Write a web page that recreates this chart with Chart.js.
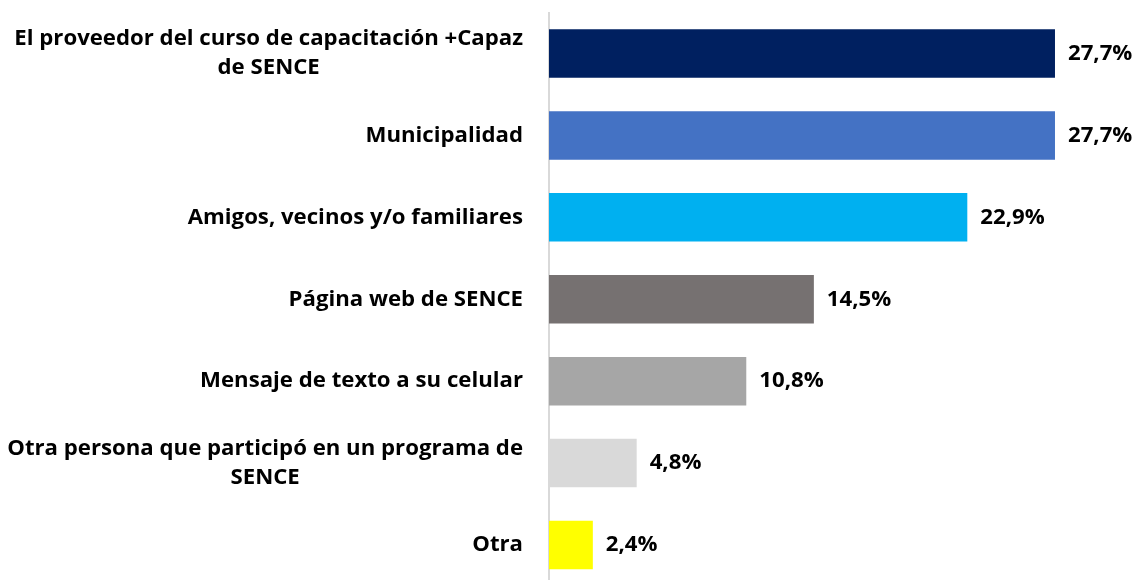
<!DOCTYPE html>
<html>
<head>
<meta charset="utf-8">
<script src="https://cdn.jsdelivr.net/npm/chart.js@4/dist/chart.umd.min.js"></script>
<style>
  html, body { margin: 0; padding: 0; background: #fff; overflow: hidden; }
  #chart { display: block; }
</style>
</head>
<body>
<canvas id="chart" width="1139" height="600"></canvas>
<script>
// ── Data ─────────────────────────────────────────
const categories = [
  ['El proveedor del curso de capacitación +Capaz', 'de SENCE'],
  ['Municipalidad'],
  ['Amigos, vecinos y/o familiares'],
  ['Página web de SENCE'],
  ['Mensaje de texto a su celular'],
  ['Otra persona que participó en un programa de', 'SENCE'],
  ['Otra'],
];
const values = [27.7, 27.7, 22.9, 14.5, 10.8, 4.8, 2.4];
const barColors = ['#002060', '#4472C4', '#00B0F0', '#767171', '#A6A6A6', '#D9D9D9', '#FFFF00'];

const FONT = "bold 22.2px 'Open Sans', Lato, sans-serif";

// ── Category labels (right-aligned block, lines centred) ──
const categoryLabels = {
  id: 'categoryLabels',
  afterDraw(chart) {
    const { ctx, chartArea, scales } = chart;
    const right = chartArea.left - 26;
    ctx.save();
    ctx.font = FONT;
    ctx.fillStyle = '#000';
    ctx.textAlign = 'center';
    ctx.textBaseline = 'middle';
    const lineH = 29;
    categories.forEach((lines, i) => {
      const y = scales.y.getPixelForValue(i);
      const maxW = Math.max(...lines.map((l) => ctx.measureText(l).width));
      const cx = right - maxW / 2;
      const y0 = y - ((lines.length - 1) * lineH) / 2;
      lines.forEach((l, k) => ctx.fillText(l, cx, y0 + k * lineH));
    });
    ctx.restore();
  },
};

// ── Value labels after each bar ──
const valueLabels = {
  id: 'valueLabels',
  afterDatasetsDraw(chart) {
    const { ctx } = chart;
    const meta = chart.getDatasetMeta(0);
    ctx.save();
    ctx.font = FONT;
    ctx.fillStyle = '#000';
    ctx.textAlign = 'left';
    ctx.textBaseline = 'middle';
    meta.data.forEach((bar, i) => {
      ctx.fillText(values[i].toFixed(1).replace('.', ',') + '%', bar.x + 13, bar.y);
    });
    ctx.restore();
  },
};

new Chart(document.getElementById('chart'), {
  type: 'bar',
  data: {
    labels: categories.map((c) => c.join(' ')),
    datasets: [
      {
        data: values,
        backgroundColor: barColors,
        borderWidth: 0,
        categoryPercentage: 1,
        barPercentage: 0.592,
      },
    ],
  },
  options: {
    indexAxis: 'y',
    responsive: false,
    animation: false,
    layout: { padding: { top: 12.5, right: 42, bottom: 14, left: 0 } },
    plugins: {
      legend: { display: false },
      tooltip: { enabled: false },
    },
    scales: {
      x: { display: false, min: 0, max: 30 },
      y: {
        z: 1,
        ticks: { display: false },
        grid: { display: false },
        border: { display: true, color: '#D9D9D9', width: 2 },
        afterFit: (s) => { s.width = 549; },
      },
    },
  },
  plugins: [categoryLabels, valueLabels],
});
</script>
</body>
</html>
